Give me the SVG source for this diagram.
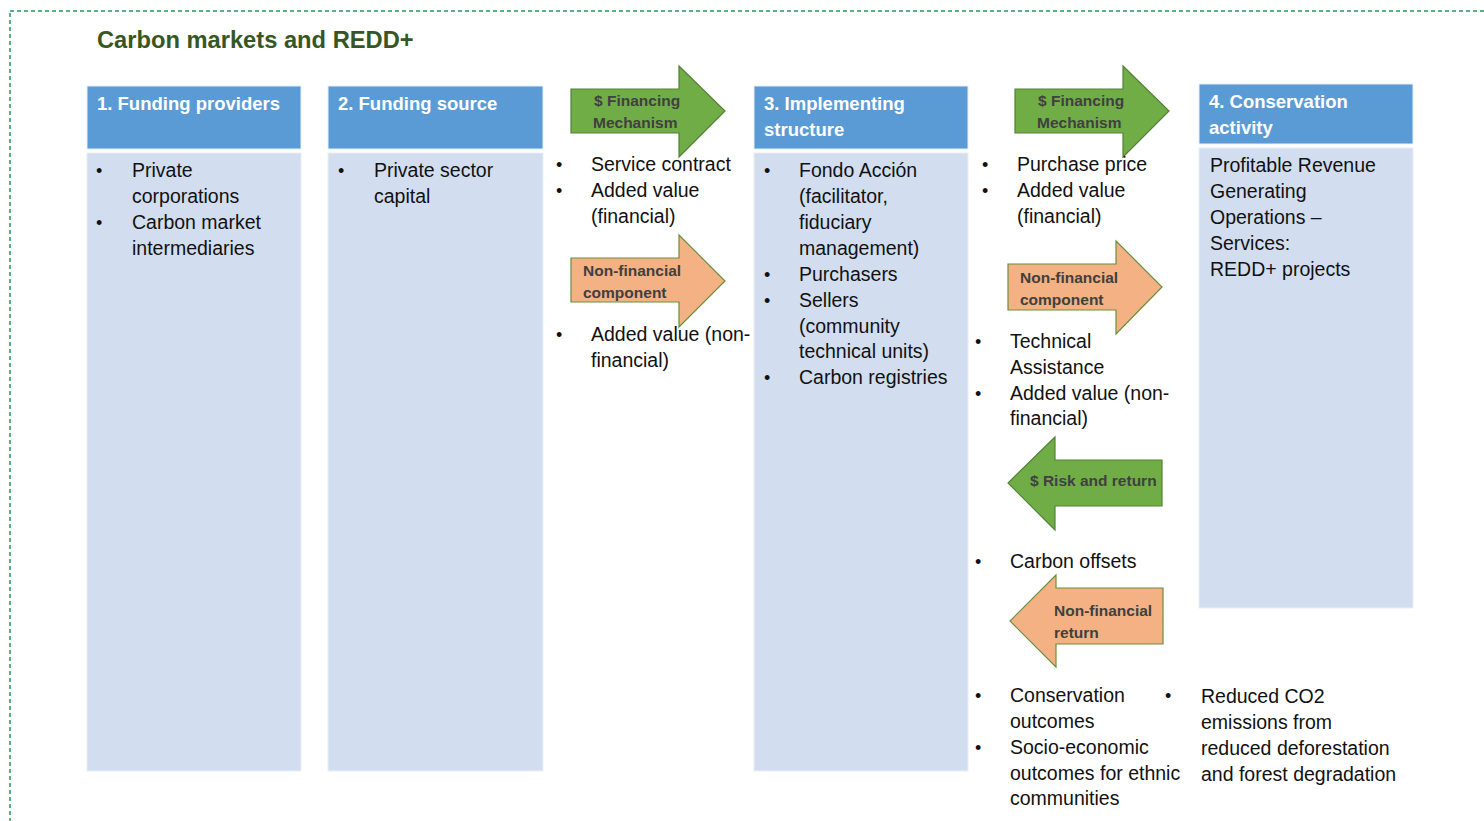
<svg xmlns="http://www.w3.org/2000/svg" width="1484" height="821" viewBox="0 0 1484 821">
<style>
.frame{fill:none;stroke:#1f9a55;stroke-width:1.5;stroke-dasharray:4 3}
.title{font-family:"Liberation Sans",Arial,sans-serif;font-weight:bold;font-size:23.7px;fill:#375623}
.hdr{fill:#5b9bd5;stroke:#e8eef7;stroke-width:1}
.body{fill:#d2deef;stroke:#e8eef7;stroke-width:1}
.ht{font-family:"Liberation Sans",Arial,sans-serif;font-weight:bold;font-size:18.5px;fill:#ffffff}
.t{font-family:"Liberation Sans",Arial,sans-serif;font-size:19.5px;fill:#111111}
.b{font-family:"Liberation Sans",Arial,sans-serif;font-size:18px;fill:#111111}
.ga{fill:#70ad47;stroke:#548235;stroke-width:1.2}
.oa{fill:#f4b183;stroke:#6a8f3a;stroke-width:1.2}
.at{font-family:"Liberation Sans",Arial,sans-serif;font-weight:bold;font-size:15.5px;fill:#404040}
</style>
<rect class="frame" x="10" y="11" width="1490" height="830"/>
<text class="title" x="97" y="48">Carbon markets and REDD+</text>

<g id="col1">
<rect class="hdr" x="87" y="86" width="214" height="63"/>
<rect class="body" x="87" y="153" width="214" height="618"/>
<text class="ht" x="97" y="110">1. Funding providers</text>
<text class="b" x="96" y="177">•</text>
<text class="t" x="132" y="177">Private</text>
<text class="t" x="132" y="203">corporations</text>
<text class="b" x="96" y="229">•</text>
<text class="t" x="132" y="229">Carbon market</text>
<text class="t" x="132" y="255">intermediaries</text>
</g>

<g id="col2">
<rect class="hdr" x="328" y="86" width="215" height="63"/>
<rect class="body" x="328" y="153" width="215" height="618"/>
<text class="ht" x="338" y="110">2. Funding source</text>
<text class="b" x="338" y="177">•</text>
<text class="t" x="374" y="177">Private sector</text>
<text class="t" x="374" y="203">capital</text>
</g>

<g id="col3">
<rect class="hdr" x="754" y="86" width="214" height="63"/>
<rect class="body" x="754" y="153" width="214" height="618"/>
<text class="ht" x="764" y="110">3. Implementing</text>
<text class="ht" x="764" y="136">structure</text>
<text class="b" x="764" y="177">•</text>
<text class="t" x="799" y="177">Fondo Acción</text>
<text class="t" x="799" y="203">(facilitator,</text>
<text class="t" x="799" y="229">fiduciary</text>
<text class="t" x="799" y="255">management)</text>
<text class="b" x="764" y="281">•</text>
<text class="t" x="799" y="281">Purchasers</text>
<text class="b" x="764" y="307">•</text>
<text class="t" x="799" y="307">Sellers</text>
<text class="t" x="799" y="333">(community</text>
<text class="t" x="799" y="358">technical units)</text>
<text class="b" x="764" y="384">•</text>
<text class="t" x="799" y="384">Carbon registries</text>
</g>

<g id="col4">
<rect class="hdr" x="1199" y="84" width="214" height="60"/>
<rect class="body" x="1199" y="148" width="214" height="460"/>
<text class="ht" x="1209" y="108">4. Conservation</text>
<text class="ht" x="1209" y="134">activity</text>
<text class="t" x="1210" y="172">Profitable Revenue</text>
<text class="t" x="1210" y="198">Generating</text>
<text class="t" x="1210" y="224">Operations –</text>
<text class="t" x="1210" y="250">Services:</text>
<text class="t" x="1210" y="276">REDD+ projects</text>
</g>

<g id="connectors">
<g id="fin1">
<polygon class="ga" points="571,89 679,89 679,66 725,111 679,157 679,133 571,133"/>
<text class="at" x="594" y="106">$ Financing</text>
<text class="at" x="593" y="128">Mechanism</text>
</g>
<g id="nonfin1">
<polygon class="oa" points="571,258 679,258 679,235 725,281 679,327 679,302 571,302"/>
<text class="at" x="583" y="276">Non-financial</text>
<text class="at" x="583" y="298">component</text>
</g>
<g id="fin2">
<polygon class="ga" points="1015,89 1123,89 1123,66 1169,111 1123,157 1123,133 1015,133"/>
<text class="at" x="1038" y="106">$ Financing</text>
<text class="at" x="1037" y="128">Mechanism</text>
</g>
<g id="nonfin2">
<polygon class="oa" points="1008,264 1116,264 1116,241 1162,287 1116,334 1116,310 1008,310"/>
<text class="at" x="1020" y="283">Non-financial</text>
<text class="at" x="1020" y="305">component</text>
</g>
<g id="risk">
<polygon class="ga" points="1162,460 1055,460 1055,437 1008,483 1055,530 1055,506 1162,506"/>
<text class="at" x="1030" y="486">$ Risk and return</text>
</g>
<g id="nonfinret">
<polygon class="oa" points="1163,588 1056,588 1056,575 1010,621 1056,667 1056,644 1163,644"/>
<text class="at" x="1054" y="616">Non-financial</text>
<text class="at" x="1054" y="638">return</text>
</g>
</g>

<g id="flow-texts">
<text class="b" x="556" y="171">•</text>
<text class="t" x="591" y="171">Service contract</text>
<text class="b" x="556" y="197">•</text>
<text class="t" x="591" y="197">Added value</text>
<text class="t" x="591" y="223">(financial)</text>
<text class="b" x="556" y="341">•</text>
<text class="t" x="591" y="341">Added value (non-</text>
<text class="t" x="591" y="367">financial)</text>

<text class="b" x="982" y="171">•</text>
<text class="t" x="1017" y="171">Purchase price</text>
<text class="b" x="982" y="197">•</text>
<text class="t" x="1017" y="197">Added value</text>
<text class="t" x="1017" y="223">(financial)</text>

<text class="b" x="975" y="348">•</text>
<text class="t" x="1010" y="348">Technical</text>
<text class="t" x="1010" y="374">Assistance</text>
<text class="b" x="975" y="400">•</text>
<text class="t" x="1010" y="400">Added value (non-</text>
<text class="t" x="1010" y="425">financial)</text>

<text class="b" x="975" y="568">•</text>
<text class="t" x="1010" y="568">Carbon offsets</text>

<text class="b" x="975" y="702">•</text>
<text class="t" x="1010" y="702">Conservation</text>
<text class="t" x="1010" y="728">outcomes</text>
<text class="b" x="975" y="754">•</text>
<text class="t" x="1010" y="754">Socio-economic</text>
<text class="t" x="1010" y="780">outcomes for ethnic</text>
<text class="t" x="1010" y="805">communities</text>

<text class="b" x="1165" y="702">•</text>
<text class="t" x="1201" y="703">Reduced CO2</text>
<text class="t" x="1201" y="729">emissions from</text>
<text class="t" x="1201" y="755">reduced deforestation</text>
<text class="t" x="1201" y="781">and forest degradation</text>
</g>
</svg>
